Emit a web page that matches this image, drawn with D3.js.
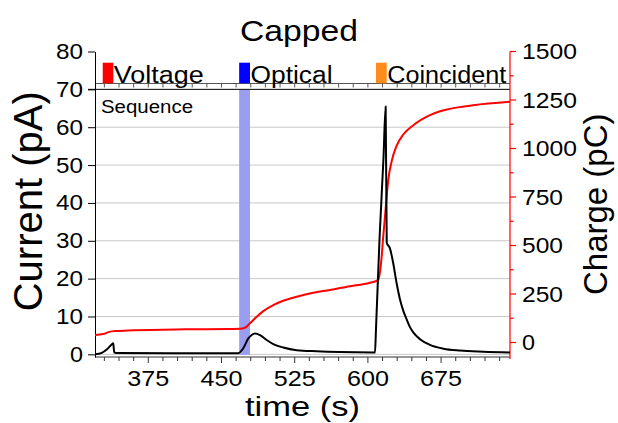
<!DOCTYPE html>
<html>
<head>
<meta charset="utf-8">
<script src="https://cdn.jsdelivr.net/npm/d3@7/dist/d3.min.js"></script>
<style>
  html, body { margin: 0; padding: 0; background: #fff; }
  svg text { font-family: "Liberation Sans", Arial, Helvetica, sans-serif; fill: #000; }
</style>
</head>
<body>
<svg id="chart" width="618" height="423"></svg>
<script>
// Current trace (time in s, current in pA)
const currentTime = [320.4, 322, 327.3, 332.4, 337.5, 339.1, 340.1, 344.3, 400, 458.7, 467.2, 472.3, 477.5, 480.9, 484.3, 489.4, 496.3, 503.1, 513.3, 527, 547.5, 571.4, 605.5, 607.3, 608.2, 612, 616, 618.2, 619.3, 622.6, 626, 629.5, 632.9, 636.3, 639.8, 643.1, 646.5, 653.4, 663.6, 677.3, 694.4, 718.2, 745.6];
const currentPA   = [0.1, 0.1, 0.4, 1.3, 2.6, 2.9, 0.5, 0.35, 0.3, 0.3, 0.3, 1.6, 4.2, 5.1, 5.5, 5.1, 3.8, 2.7, 1.8, 1.1, 0.8, 0.6, 0.5, 0.5, 6, 31, 52, 65.5, 29.5, 28, 24, 18.7, 14.5, 11.5, 9.2, 7.2, 5.8, 4.0, 2.5, 1.5, 1.0, 0.7, 0.5];

// Accumulated charge (time in s, charge in pC)
const chargeTime = [320.4, 328.9, 335.8, 340.9, 360, 412.6, 458.7, 468.9, 474, 479.2, 486.1, 492.8, 503.1, 513.3, 527, 544, 561.2, 580, 602, 610.6, 614.1, 615.7, 617.5, 619.2, 620.9, 624.4, 629.5, 636.3, 646.5, 663.6, 673.9, 707.7, 745.6];
const chargePC   = [39, 44, 56, 59, 63, 68, 70, 71, 76, 99, 133, 162, 193, 215, 236, 257, 271, 289, 308, 322, 442, 545, 648, 752, 838, 935, 1015, 1072, 1120, 1172, 1192, 1223, 1241];

// Stimulus sequence markers (start / end time in s)
const eventNames = ["Voltage", "Optical", "Coincident"];
const eventStart = [328.3, 468.1, 608.3];
const eventEnd   = [339.2, 479.2, 619.3];
const eventColors = ["#ff0000", "#0000ff", "#ff8c1a"];

// Axis ticks
const xTicks = [375, 450, 525, 600, 675];
const yLeftTicks = [0, 10, 20, 30, 40, 50, 60, 70, 80];
const yRightTicks = [0, 250, 500, 750, 1000, 1250, 1500];
const gridValues = [0, 10, 20, 30, 40, 50, 60];

const svg = d3.select("#chart");
const L = 95, R = 510, T = 51.5, B = 357;
const DIGIT_W = 14; // width of one tick-label digit (wide face)

const x  = d3.scaleLinear().domain([320.4, 745.6]).range([L, R]);
const yL = d3.scaleLinear().domain([-0.7, 80]).range([B, T]);
const yR = d3.scaleLinear().domain([-74.7, 1500]).range([B, T]);

// wide text helper
function wide(sel, len) {
  return sel.attr("textLength", len).attr("lengthAdjust", "spacingAndGlyphs");
}

// grid
svg.append("g").selectAll("line").data(gridValues).join("line")
  .attr("x1", L).attr("x2", R)
  .attr("y1", d => yL(d)).attr("y2", d => yL(d))
  .attr("stroke", "#c8c8c8").attr("stroke-width", 1);

// optical stimulation band
svg.append("rect")
  .attr("x", x(eventStart[1])).attr("width", x(eventEnd[1]) - x(eventStart[1]))
  .attr("y", yL(70) + 0.5).attr("height", yL(0) - yL(70))
  .attr("fill", "#9b9ef0");

// x axis (bottom) with minor ticks every 15 s
const xMinor = d3.range(330, 746, 15);
const xAxis = svg.append("g").attr("transform", `translate(0,${B})`);
xAxis.append("line").attr("x1", L).attr("x2", R).attr("stroke", "#333").attr("stroke-width", 1);
xAxis.selectAll("line.tk").data(xMinor).join("line").attr("class", "tk")
  .attr("x1", d => x(d)).attr("x2", d => x(d))
  .attr("y1", 0).attr("y2", d => (d % 75 === 0 ? 6 : 4))
  .attr("stroke", "#333").attr("stroke-width", 1);
xAxis.selectAll("text").data(xTicks).join("text")
  .attr("x", d => x(d)).attr("y", 29)
  .attr("text-anchor", "middle").attr("font-size", 22)
  .text(d => d)
  .each(function (d) { wide(d3.select(this), String(d).length * DIGIT_W); });

// sequence strip baseline with ticks
const strip = svg.append("g").attr("transform", `translate(0,83.5)`);
strip.append("line").attr("x1", L).attr("x2", R).attr("stroke", "#555").attr("stroke-width", 1);
strip.selectAll("line.tk").data(xMinor).join("line").attr("class", "tk")
  .attr("x1", d => x(d)).attr("x2", d => x(d))
  .attr("y1", 0).attr("y2", 4)
  .attr("stroke", "#555").attr("stroke-width", 1);

// top border of main panel
svg.append("line")
  .attr("x1", L - 7).attr("x2", R)
  .attr("y1", yL(70)).attr("y2", yL(70))
  .attr("stroke", "#000").attr("stroke-width", 1);

// left axis
const yAxisL = d3.axisLeft(yL).tickValues(yLeftTicks).tickSize(7).tickPadding(5).tickSizeOuter(0);
const gL = svg.append("g").attr("transform", `translate(${L},0)`).call(yAxisL);
gL.select(".domain").attr("stroke", "#000");
gL.selectAll(".tick line").attr("stroke", "#000");
gL.selectAll(".tick text").attr("font-size", 22).attr("font-family", "Liberation Sans, Arial, sans-serif").attr("fill", "#000")
  .each(function (d) { wide(d3.select(this), String(d).length * DIGIT_W - 1); });

// right axis (red) with minor ticks
const gR = svg.append("g").attr("transform", `translate(${R},0)`);
gR.append("line").attr("y1", T).attr("y2", B + 2).attr("stroke", "#ff0000").attr("stroke-width", 1.2);
gR.selectAll("line.mn").data(d3.range(125, 1500, 250)).join("line").attr("class", "mn")
  .attr("x1", 0).attr("x2", 3.5).attr("y1", d => yR(d)).attr("y2", d => yR(d))
  .attr("stroke", "#ff0000").attr("stroke-width", 1.2);
gR.selectAll("line.mj").data(yRightTicks).join("line").attr("class", "mj")
  .attr("x1", 0).attr("x2", 6).attr("y1", d => yR(d)).attr("y2", d => yR(d))
  .attr("stroke", "#ff0000").attr("stroke-width", 1.2);
gR.selectAll("text").data(yRightTicks).join("text")
  .attr("x", 12).attr("y", d => yR(d)).attr("dy", "0.35em")
  .attr("font-size", 22).text(d => d)
  .each(function (d) { wide(d3.select(this), String(d).length * DIGIT_W - 1); });

// data lines
const chargeData = chargeTime.map((t, i) => [t, chargePC[i]]);
const currentData = currentTime.map((t, i) => [t, currentPA[i]]);

svg.append("path").datum(chargeData)
  .attr("fill", "none").attr("stroke", "#ff0000").attr("stroke-width", 2)
  .attr("d", d3.line().x(d => x(d[0])).y(d => yR(d[1])).curve(d3.curveMonotoneX));

svg.append("path").datum(currentData)
  .attr("fill", "none").attr("stroke", "#000").attr("stroke-width", 2)
  .attr("stroke-linejoin", "round")
  .attr("d", d3.line().x(d => x(d[0])).y(d => yL(d[1])).curve(d3.curveMonotoneX));

// sequence legend
const legendWidths = [90, 82, 119];
const leg = svg.append("g");
eventNames.forEach((name, i) => {
  leg.append("rect")
    .attr("x", x(eventStart[i])).attr("width", x(eventEnd[i]) - x(eventStart[i]))
    .attr("y", 62.7).attr("height", 20.6)
    .attr("fill", eventColors[i]);
  wide(leg.append("text")
    .attr("x", x(eventEnd[i]) + 0.5).attr("y", 82.5)
    .attr("font-size", 23.5).text(name), legendWidths[i]);
});

wide(svg.append("text").attr("x", 101).attr("y", 112.7).attr("font-size", 18).text("Sequence"), 92);

// titles
wide(svg.append("text").attr("x", 299).attr("y", 41).attr("text-anchor", "middle")
  .attr("font-size", 30).text("Capped"), 118);
wide(svg.append("text").attr("x", (L + R) / 2).attr("y", 416).attr("text-anchor", "middle")
  .attr("font-size", 27).text("time (s)"), 115);
svg.append("text").attr("transform", `translate(42,${(T + B) / 2 - 3}) rotate(-90)`)
  .attr("text-anchor", "middle").attr("font-size", 40).text("Current (pA)");
svg.append("text").attr("transform", `translate(607,${(T + B) / 2}) rotate(-90)`)
  .attr("text-anchor", "middle").attr("font-size", 33).text("Charge (pC)");
</script>
</body>
</html>
